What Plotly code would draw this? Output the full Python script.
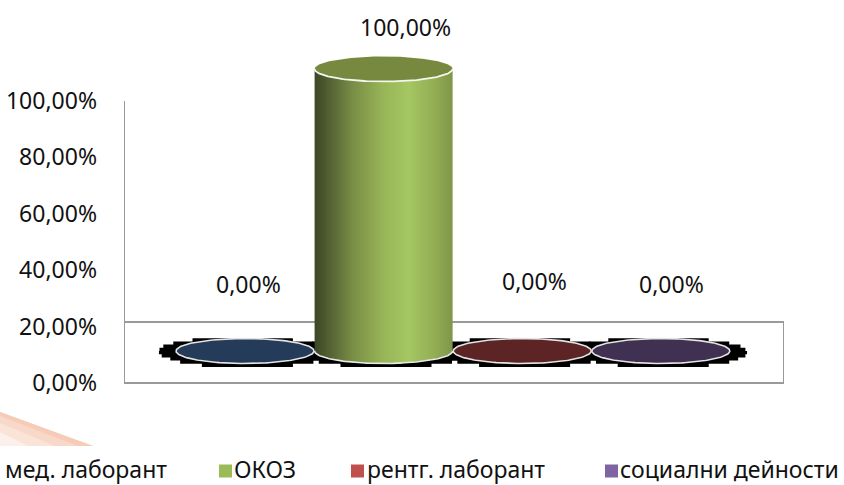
import numpy as np
import plotly.graph_objects as go

categories = ["мед. лаборант", "ОКОЗ", "рентг. лаборант", "социални дейности"]
values = [0.0, 100.0, 0.0, 0.0]
tick_values = [0, 20, 40, 60, 80, 100]
tick_labels = ["0,00%", "20,00%", "40,00%", "60,00%", "80,00%", "100,00%"]
top_colors = ["#243b5a", "#76893f", "#5c2424", "#403152"]
legend_colors = ["#4f81bd", "#9bbb59", "#c0504d", "#8064a2"]

W, H = 844, 485
L, R, T, B = 124, 784, 0, 485
Y0, PX_PER_PCT = 383.0, 2.82
X0, PX_PER_CAT = 245.0, 138.6


def dx(px):
    return (px - X0) / PX_PER_CAT


def dy(py):
    return (Y0 - py) / PX_PER_PCT


def paper(px, py):
    return (px - L) / (R - L), (B - py) / (B - T)


BASE = dy(351)            # 3D depth offset of the cylinders' base
RX, RY = 69 / PX_PER_CAT, 12.5 / PX_PER_PCT
FONT = "Noto Sans"
t = np.linspace(0, 2 * np.pi, 181)

fig = go.Figure()
shapes = []

# walls
GRAY = "#999999"
shapes.append(dict(type="line", xref="x", yref="y", x0=dx(124), x1=dx(124), y0=0, y1=100,
                   line=dict(color=GRAY, width=2), layer="below"))
shapes.append(dict(type="rect", xref="x", yref="y", x0=dx(124), x1=dx(784), y0=0, y1=dy(322),
                   line=dict(color=GRAY, width=2), layer="below"))

# black jagged shadows (below every trace)
STEP = 3.2 / PX_PER_PCT
for i in range(4):
    ang = np.linspace(0, 2 * np.pi, 97)
    sx = i + 1.25 * RX * np.cos(ang)
    sy = BASE - 0.4 + 1.24 * RY * np.sin(ang)
    sy = np.round(sy / STEP) * STEP
    pts = ["M %.4f,%.3f" % (sx[0], sy[0])]
    for k in range(1, len(sx)):
        pts.append("L %.4f,%.3f" % (sx[k], sy[k - 1]))
        pts.append("L %.4f,%.3f" % (sx[k], sy[k]))
    shapes.append(dict(type="path", xref="x", yref="y", path=" ".join(pts) + " Z",
                       fillcolor="#000000", line=dict(width=0), layer="below"))

# flat (zero height) ellipses and the cylinder
stops = [[0, "#3c4724"], [0.12, "#566535"], [0.28, "#7a8f46"], [0.5, "#98b658"],
         [0.68, "#a5c763"], [0.85, "#95b156"], [1, "#7f9649"]]
for i, v in enumerate(values):
    if v == 0:
        fig.add_trace(go.Scatter(x=i + RX * np.cos(t), y=BASE + RY * np.sin(t), mode="lines",
                                 fill="toself", fillcolor=top_colors[i],
                                 line=dict(color="#e4e4e4", width=1.6),
                                 hoverinfo="skip", showlegend=False))
    else:
        xs = np.linspace(i - RX, i + RX, 139)          # cell edges
        low = np.linspace(BASE - RY, BASE, 15)
        ys = np.concatenate([low, [BASE + v]])         # cell edges
        xc = (xs[:-1] + xs[1:]) / 2
        yc = (ys[:-1] + ys[1:]) / 2
        grad = (xc - xs[0]) / (xs[-1] - xs[0])
        z = np.tile(grad, (len(yc), 1))
        floor = BASE - RY * np.sqrt(np.clip(1 - ((xc - i) / RX) ** 2, 0, 1))
        for r, yy in enumerate(yc):
            z[r, yy < floor] = np.nan
        fig.add_trace(go.Heatmap(x=xs, y=ys, z=z, colorscale=stops, zmin=0, zmax=1,
                                 showscale=False, hoverinfo="skip"))
        # white edge round the base
        tb = np.linspace(np.pi, 2 * np.pi, 91)
        fig.add_trace(go.Scatter(x=i + RX * np.cos(tb), y=BASE + RY * np.sin(tb), mode="lines",
                                 line=dict(color="#e8e8e8", width=1.6),
                                 hoverinfo="skip", showlegend=False))
        # top ellipse, with a bright front rim only
        fig.add_trace(go.Scatter(x=i + RX * np.cos(t), y=BASE + v + RY * np.sin(t), mode="lines",
                                 fill="toself", fillcolor=top_colors[i],
                                 line=dict(width=0),
                                 hoverinfo="skip", showlegend=False))
        fig.add_trace(go.Scatter(x=i + RX * np.cos(tb), y=BASE + v + RY * np.sin(tb), mode="lines",
                                 line=dict(color="#f4f6ee", width=1.8),
                                 hoverinfo="skip", showlegend=False))

# legend row: swatch and text
anns = []
swatch_px = [-15, 219, 351, 605]
text_px = [4, 233, 366, 619]
SWATCH_Y, TEXT_Y = 471, 469
for sw, tx, name, col in zip(swatch_px, text_px, categories, legend_colors):
    x0, y0 = paper(sw, SWATCH_Y + 6.5)
    x1, y1 = paper(sw + 13, SWATCH_Y - 6.5)
    shapes.append(dict(type="rect", xref="paper", yref="paper", x0=x0, x1=x1, y0=y0, y1=y1,
                       fillcolor=col, line=dict(width=0)))
    xa, ya = paper(tx, TEXT_Y)
    anns.append(dict(x=xa, y=ya, xref="paper", yref="paper", xanchor="left", yanchor="middle",
                     showarrow=False, text=name, borderpad=0,
                     font=dict(family=FONT, size=23, color="#111111")))

# faded orange corner
layers = [
    ("#fcf0ea", [(0, 412), (93, 446), (0, 446)]),
    ("#fae3d7", [(0, 412), (93, 446), (28, 446), (0, 432)]),
    ("#f8d8c8", [(0, 412), (93, 446), (55, 446), (0, 423)]),
    ("#f6ccb8", [(0, 412), (93, 446), (78, 446), (0, 416)]),
]
for col, pts in layers:
    path = "M " + " L ".join("%.4f,%.4f" % paper(*p) for p in pts) + " Z"
    shapes.append(dict(type="path", xref="paper", yref="paper", path=path,
                       fillcolor=col, line=dict(width=0), layer="below"))

# value labels
label_px = [(248, 284), (405, 27), (534, 281), (671, 284)]
for (px, py), v in zip(label_px, values):
    anns.append(dict(x=dx(px), y=dy(py), xref="x", yref="y", showarrow=False,
                     text=("%.2f" % v).replace(".", ",") + "%",
                     font=dict(family=FONT, size=23, color="#111111")))

fig.update_layout(
    width=W, height=H, autosize=False, paper_bgcolor="white", plot_bgcolor="rgba(0,0,0,0)",
    margin=dict(l=L, r=W - R, t=T, b=H - B), showlegend=False,
    xaxis=dict(range=[dx(L), dx(R)], visible=False, fixedrange=True),
    yaxis=dict(range=[dy(B), dy(T)], tickvals=tick_values, ticktext=tick_labels,
               showgrid=False, zeroline=False, showline=False, ticks="",
               ticklen=0, ticklabelstandoff=26, automargin=False, fixedrange=True,
               tickfont=dict(family=FONT, size=23, color="#111111")),
    shapes=shapes, annotations=anns,
)
fig.write_html("out.html", config={"displayModeBar": False},
               post_script="document.body.style.margin='0';document.body.style.overflow='hidden';")
